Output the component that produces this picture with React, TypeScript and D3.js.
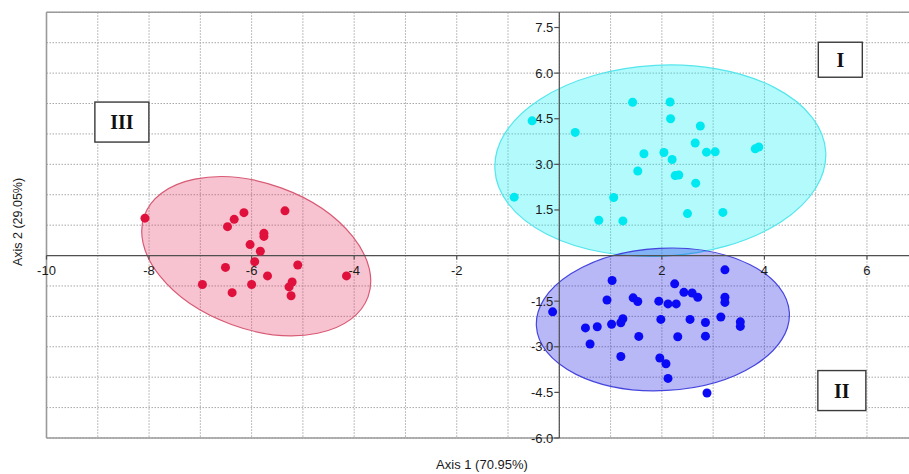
import React from "react";
import * as d3 from "d3";

// ---- Data ----
const groupI: [number, number][] = [
  [-0.53, 4.43], [0.31, 4.05], [-0.88, 1.92], [1.06, 1.91], [0.77, 1.16], [1.24, 1.14],
  [1.43, 5.04], [2.16, 5.05], [2.17, 4.5], [2.75, 4.26], [2.65, 3.7], [1.65, 3.35],
  [2.04, 3.39], [2.2, 3.16], [2.87, 3.4], [3.04, 3.41], [3.82, 3.51], [3.89, 3.57],
  [1.53, 2.78], [2.26, 2.63], [2.33, 2.65], [2.66, 2.38], [2.5, 1.38], [3.19, 1.42],
];

const groupII: [number, number][] = [
  [3.23, -0.47], [1.03, -0.82], [2.25, -0.93], [2.43, -1.21], [2.59, -1.23], [2.7, -1.37],
  [3.23, -1.37], [3.23, -1.54], [0.93, -1.46], [1.44, -1.39], [1.53, -1.51], [1.94, -1.5],
  [2.12, -1.59], [2.28, -1.59], [-0.13, -1.85], [1.24, -2.08], [1.2, -2.21], [1.02, -2.26],
  [0.74, -2.34], [0.51, -2.38], [1.98, -2.1], [2.55, -2.1], [2.85, -2.2], [3.15, -2.02],
  [3.53, -2.18], [3.53, -2.33], [1.55, -2.66], [2.31, -2.67], [2.85, -2.65], [0.6, -2.91],
  [1.2, -3.32], [1.96, -3.37], [2.08, -3.56], [2.12, -4.04], [2.88, -4.52],
];

const groupIII: [number, number][] = [
  [-8.08, 1.23], [-6.15, 1.41], [-6.34, 1.19], [-6.47, 0.95], [-5.35, 1.47], [-5.76, 0.73],
  [-5.76, 0.63], [-6.03, 0.36], [-5.83, 0.14], [-5.94, -0.2], [-6.51, -0.39], [-5.1, -0.31],
  [-5.69, -0.67], [-6.96, -0.95], [-6.0, -0.95], [-6.38, -1.22], [-5.21, -0.87], [-5.27, -1.03],
  [-5.23, -1.32], [-4.15, -0.67],
];

// confidence ellipses: centre, semi-axes (x units / y units), tilt in degrees
const ellipseI = { cx: 1.97, cy: 3.12, rx: 3.23, ry: 3.14, angle: -3 };
const ellipseII = { cx: 2.02, cy: -2.1, rx: 2.47, ry: 2.34, angle: -3 };
const ellipseIII = { cx: -5.91, cy: -0.02, rx: 2.32, ry: 2.39, angle: 20 };

const xTickValues = [-10, -8, -6, -4, -2, 2, 4, 6];
const yTickValues = [7.5, 6.0, 4.5, 3.0, 1.5, -1.5, -3.0, -4.5, -6.0];
const xGridValues = d3.range(-10, 7, 1);
const yGridValues = d3.range(-6, 9, 1);

const groupLabels = [
  { text: "I", x: 5.48, y: 6.44 },
  { text: "II", x: 5.51, y: -4.44 },
  { text: "III", x: -8.53, y: 4.39 },
];
const labelBoxSizes = [
  [44, 35],
  [48, 40],
  [54, 40],
];

const xTitle = "Axis 1 (70.95%)";
const yTitle = "Axis 2 (29.05%)";

// ---- Layout ----
const W = 909;
const H = 474;
const xScale = d3.scaleLinear().domain([-10, 6.85]).range([46.5, 46.5 + 16.85 * 51.28]);
const yScale = d3.scaleLinear().domain([-6, 8]).range([438.0, 12.3]);

const locale = d3.formatLocale({ decimal: ".", thousands: ",", grouping: [3], currency: ["", ""], minus: "-" });
const fmtX = locale.format("d");
const fmtY = locale.format(".1f");

const groups = [
  { pts: groupI, ell: ellipseI, color: "#00e8f0", fill: "rgba(0,240,245,0.30)", stroke: "#55e6ec" },
  { pts: groupII, ell: ellipseII, color: "#0a0af5", fill: "rgba(20,20,230,0.30)", stroke: "#4545de" },
  { pts: groupIII, ell: ellipseIII, color: "#e0103c", fill: "rgba(228,40,85,0.28)", stroke: "#d85a74" },
];

const font = "'Liberation Sans', Arial, Helvetica, sans-serif";

export default function App() {
  const x0 = xScale(0);
  const y0 = yScale(0);
  const left = xScale(-10);
  const right = W + 2;
  const top = yScale(8);
  const bottom = yScale(-6);
  const pxPerX = xScale(1) - xScale(0);
  const pxPerY = yScale(0) - yScale(1);

  return (
    <svg
      width={W}
      height={H}
      style={{ position: "absolute", left: 0, top: 0, background: "#fff" }}
      fontFamily={font}
    >
      <rect x={0} y={0} width={W} height={H} fill="#fff" />
      {/* grid */}
      <g stroke="#a8a8a8" strokeWidth={1} strokeDasharray="1.5,1.5">
        {xGridValues.map((v) => (
          <line key={"gx" + v} x1={xScale(v)} x2={xScale(v)} y1={top} y2={bottom} />
        ))}
        {yGridValues.map((v) => (
          <line key={"gy" + v} x1={left} x2={right} y1={yScale(v)} y2={yScale(v)} />
        ))}
      </g>

      {/* ellipses */}
      {groups.map((g, i) => {
        const cx = xScale(g.ell.cx);
        const cy = yScale(g.ell.cy);
        return (
          <ellipse
            key={"e" + i}
            cx={cx}
            cy={cy}
            rx={g.ell.rx * pxPerX}
            ry={g.ell.ry * pxPerY}
            transform={`rotate(${g.ell.angle} ${cx} ${cy})`}
            fill={g.fill}
            stroke={g.stroke}
            strokeWidth={1.2}
          />
        );
      })}

      {/* border */}
      <g stroke="#9a9a9a" strokeWidth={1.6} fill="none">
        <line x1={left} x2={right} y1={top} y2={top} />
        <line x1={left} x2={right} y1={bottom} y2={bottom} />
        <line x1={left} x2={left} y1={top} y2={bottom} />
      </g>

      {/* axes */}
      <g stroke="#505050" strokeWidth={1.2}>
        <line x1={left} x2={right} y1={y0} y2={y0} />
        <line x1={x0} x2={x0} y1={top} y2={bottom} />
        {xTickValues.map((v) => (
          <line key={"tx" + v} x1={xScale(v)} x2={xScale(v)} y1={y0} y2={y0 + 4} />
        ))}
        {yTickValues.map((v) => (
          <line key={"ty" + v} x1={x0 - 5} x2={x0} y1={yScale(v)} y2={yScale(v)} />
        ))}
      </g>

      {/* tick labels */}
      <g fontSize={13} fill="#1a1a1a">
        {xTickValues.map((v) => (
          <text key={"lx" + v} x={xScale(v)} y={y0 + 19} textAnchor="middle">
            {fmtX(v)}
          </text>
        ))}
        {yTickValues.map((v) => (
          <text key={"ly" + v} x={x0 - 6} y={yScale(v)} dy="0.35em" textAnchor="end">
            {fmtY(v)}
          </text>
        ))}
      </g>

      {/* points */}
      {groups.map((g, i) => (
        <g key={"p" + i} fill={g.color}>
          {g.pts.map((p, j) => (
            <circle key={j} cx={xScale(p[0])} cy={yScale(p[1])} r={4.5} />
          ))}
        </g>
      ))}

      {/* group labels */}
      {groupLabels.map((l, i) => {
        const cx = xScale(l.x);
        const cy = yScale(l.y);
        const [bw, bh] = labelBoxSizes[i];
        return (
          <g key={"gl" + i}>
            <rect x={cx - bw / 2} y={cy - bh / 2} width={bw} height={bh} fill="#fff" stroke="#3a3a3a" strokeWidth={1.4} />
            <text
              x={cx}
              y={cy}
              dy="0.35em"
              textAnchor="middle"
              fontFamily="'Liberation Serif', 'Times New Roman', serif"
              fontWeight="bold"
              fontSize={20}
              fill="#111"
            >
              {l.text}
            </text>
          </g>
        );
      })}

      {/* axis titles */}
      <text x={482} y={469} textAnchor="middle" fontSize={13} fill="#1a1a1a">
        {xTitle}
      </text>
      <text
        transform={`translate(22, 222) rotate(-90)`}
        textAnchor="middle"
        fontSize={12.5}
        fill="#1a1a1a"
      >
        {yTitle}
      </text>
    </svg>
  );
}
